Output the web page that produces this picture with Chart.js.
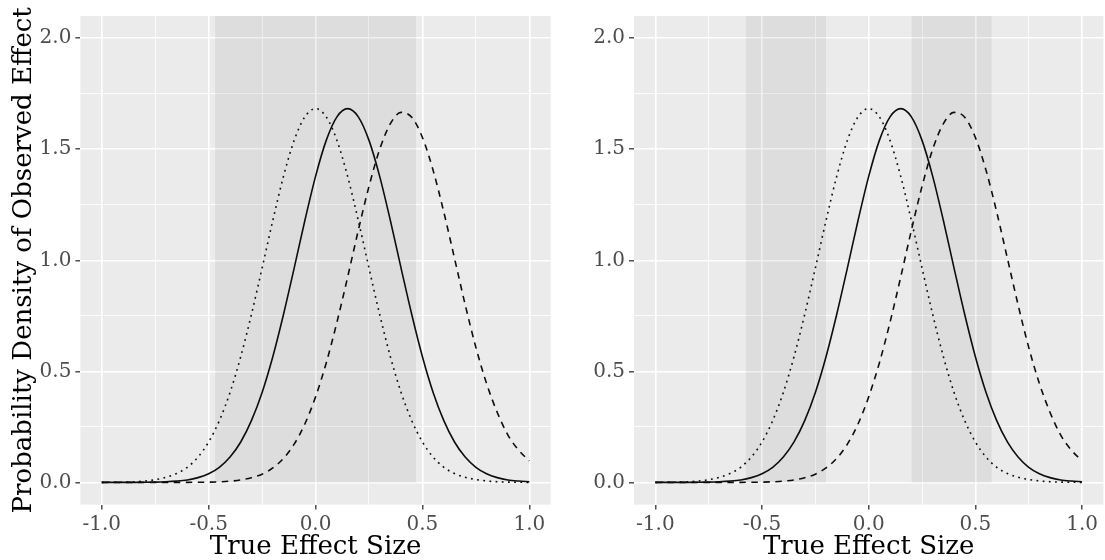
<!DOCTYPE html>
<html>
<head>
<meta charset="utf-8">
<script src="https://cdn.jsdelivr.net/npm/chart.js@4.4.1/dist/chart.umd.min.js"></script>
<style>
  html, body { margin: 0; padding: 0; background: #fff; }
  body { width: 1105px; height: 560px; position: relative; overflow: hidden; }
  .panel { position: absolute; top: 0; height: 560px; }
  #leftBox { left: 0; width: 556px; }
  #rightBox { left: 556px; width: 549px; }
</style>
</head>
<body>
<div class="panel" id="leftBox"><canvas id="leftChart"></canvas></div>
<div class="panel" id="rightBox"><canvas id="rightChart"></canvas></div>
<script>
// true effect size grid (x)
const effectSizes = [
  -1.00, -0.95, -0.90, -0.85, -0.80, -0.75, -0.70, -0.65, -0.60, -0.55,
  -0.50, -0.45, -0.40, -0.35, -0.30, -0.25, -0.20, -0.15, -0.10, -0.05,
   0.00,  0.05,  0.10,  0.15,  0.20,  0.25,  0.30,  0.35,  0.40,  0.45,
   0.50,  0.55,  0.60,  0.65,  0.70,  0.75,  0.80,  0.85,  0.90,  0.95, 1.00
];

// dotted curve, centred on 0
const dottedDensity = [
  0.0002, 0.0005, 0.0012, 0.0027, 0.0060, 0.012, 0.023, 0.040, 0.068, 0.114,
  0.182, 0.278, 0.405, 0.566, 0.756, 0.965, 1.179, 1.378, 1.540, 1.646,
  1.683, 1.646, 1.540, 1.378, 1.179, 0.965, 0.756, 0.566, 0.405, 0.278,
  0.182, 0.114, 0.068, 0.040, 0.023, 0.013, 0.0065, 0.0030, 0.0013, 0.0005, 0.0002
];

// solid curve, peak near 0.15
const solidDensity = [
  0.0000, 0.0000, 0.0001, 0.0002, 0.0005, 0.0012, 0.0027, 0.0057, 0.011, 0.0215,
  0.039, 0.068, 0.114, 0.182, 0.278, 0.405, 0.566, 0.756, 0.965, 1.179,
  1.378, 1.540, 1.646, 1.683, 1.646, 1.540, 1.378, 1.179, 0.965, 0.756,
  0.566, 0.405, 0.278, 0.182, 0.114, 0.068, 0.039, 0.0215, 0.011, 0.0060, 0.0030
];

// dashed curve, peak near 0.4
const dashedDensity = [
  0.0000, 0.0000, 0.0000, 0.0000, 0.0000, 0.0000, 0.0000, 0.0001, 0.0002, 0.0005,
  0.0012, 0.0026, 0.0055, 0.011, 0.021, 0.037, 0.065, 0.108, 0.172, 0.263,
  0.385, 0.538, 0.721, 0.924, 1.135, 1.333, 1.500, 1.615, 1.666, 1.644,
  1.553, 1.405, 1.217, 1.009, 0.800, 0.608, 0.445, 0.315, 0.213, 0.145, 0.097
];

// shaded intervals per panel
const leftBands = [[-0.47, 0.47]];
const rightBands = [[-0.577, -0.2], [0.2, 0.577]];

const xTicks = [-1, -0.75, -0.5, -0.25, 0, 0.25, 0.5, 0.75, 1];
const xMajor = [-1, -0.5, 0, 0.5, 1];
const xTickLabels = ['-1.0', '-0.5', '0.0', '0.5', '1.0'];
const yTicks = [0, 0.25, 0.5, 0.75, 1, 1.25, 1.5, 1.75, 2];
const yMajor = [0, 0.5, 1, 1.5, 2];
const yTickLabels = ['0.0', '0.5', '1.0', '1.5', '2.0'];

const X_MIN = -1.1, X_MAX = 1.1, Y_MIN = -0.1, Y_MAX = 2.1;
const SERIF = "'DejaVu Serif', 'Liberation Serif', serif";

const panelBg = {
  id: 'panelBg',
  beforeDraw(chart) {
    const { ctx, chartArea: a } = chart;
    ctx.save();
    ctx.fillStyle = '#EBEBEB';
    ctx.fillRect(a.left, a.top, a.right - a.left, a.bottom - a.top);
    ctx.restore();
  }
};

function points(ys) {
  return effectSizes.map((x, i) => ({ x: x, y: ys[i] }));
}

function curve(ys, dash) {
  return {
    data: points(ys),
    borderColor: '#0d0d0d',
    borderWidth: 1.6,
    borderDash: dash,
    pointRadius: 0,
    fill: false,
    cubicInterpolationMode: 'monotone',
    order: 1
  };
}

function gridFor(major) {
  return {
    color: '#FFFFFF',
    lineWidth: c => (c.tick && major.includes(c.tick.value)) ? 1.6 : 0.8,
    tickColor: c => (c.tick && major.includes(c.tick.value)) ? '#333333' : 'rgba(0,0,0,0)',
    tickWidth: 1.3,
    tickLength: 5
  };
}

function makeChart(id, bands, yWidth, showYTitle, rightPad) {
  const bandSets = bands.map(([lo, hi]) => ({
    data: [{ x: lo, y: Y_MAX }, { x: hi, y: Y_MAX }],
    borderWidth: 0,
    borderColor: 'rgba(0,0,0,0)',
    backgroundColor: 'rgba(0,0,0,0.06)',
    pointRadius: 0,
    fill: 'origin',
    order: 2
  }));

  return new Chart(document.getElementById(id), {
    type: 'line',
    data: {
      datasets: [
        ...bandSets,
        curve(dottedDensity, [1.8, 4.4]),
        curve(solidDensity, []),
        curve(dashedDensity, [6.5, 5.5])
      ]
    },
    options: {
      responsive: true,
      maintainAspectRatio: false,
      animation: false,
      events: [],
      layout: { padding: { top: 14.4, right: rightPad, left: 0, bottom: 0 } },
      plugins: { legend: { display: false }, tooltip: { enabled: false } },
      scales: {
        x: {
          type: 'linear',
          min: X_MIN,
          max: X_MAX,
          afterBuildTicks: s => { s.ticks = xTicks.map(v => ({ value: v })); },
          afterFit: s => { s.height = 55.4; },
          border: { display: false },
          grid: gridFor(xMajor),
          ticks: {
            autoSkip: false,
            maxRotation: 0,
            padding: 3,
            color: '#4D4D4D',
            font: { family: SERIF, size: 20 },
            callback: v => {
              const i = xMajor.indexOf(v);
              return i < 0 ? '' : xTickLabels[i];
            }
          },
          title: {
            display: true,
            text: 'True Effect Size',
            color: '#000',
            font: { family: SERIF, size: 26, lineHeight: 1 },
            padding: { top: 0, bottom: 0 }
          }
        },
        y: {
          type: 'linear',
          min: Y_MIN,
          max: Y_MAX,
          afterBuildTicks: s => { s.ticks = yTicks.map(v => ({ value: v })); },
          afterFit: s => { s.width = yWidth; },
          border: { display: false },
          grid: gridFor(yMajor),
          ticks: {
            autoSkip: false,
            padding: 4,
            color: '#4D4D4D',
            font: { family: SERIF, size: 20 },
            callback: v => {
              const i = yMajor.indexOf(v);
              return i < 0 ? '' : yTickLabels[i];
            }
          },
          title: {
            display: showYTitle,
            text: 'Probability Density of Observed Effect',
            color: '#000',
            font: { family: SERIF, size: 26, lineHeight: 1 },
            padding: { top: 11, bottom: 0 }
          }
        }
      }
    },
    plugins: [panelBg]
  });
}

makeChart('leftChart', leftBands, 80.4, true, 5.3);
makeChart('rightChart', rightBands, 78, false, 1.6);
</script>
</body>
</html>
